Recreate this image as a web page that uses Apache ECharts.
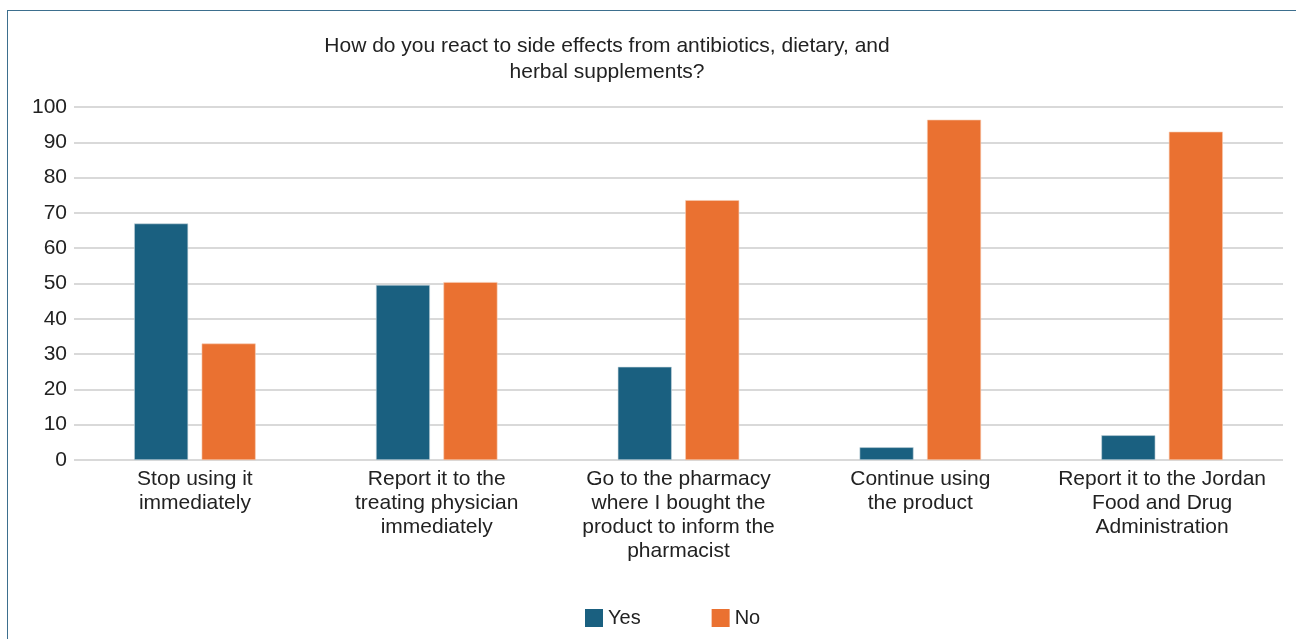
<!DOCTYPE html>
<html>
<head>
<meta charset="utf-8">
<script src="https://cdn.jsdelivr.net/npm/echarts@6/dist/echarts.min.js"></script>
<style>
html,body{margin:0;padding:0;background:#fff;}
#frame{position:absolute;left:7px;top:10px;width:1300px;height:640px;border:1px solid #3d6f8e;box-sizing:border-box;}
#chart{position:absolute;left:0;top:0;width:1296px;height:639px;}
</style>
</head>
<body>
<div id="frame"></div>
<div id="chart"></div>
<script>
const titleText = "How do you react to side effects from antibiotics, dietary, and\nherbal supplements?";
const categories = [
  "Stop using it\nimmediately",
  "Report it to the\ntreating physician\nimmediately",
  "Go to the pharmacy\nwhere I bought the\nproduct to inform the\npharmacist",
  "Continue using\nthe product",
  "Report it to the Jordan\nFood and Drug\nAdministration"
];
const seriesNames = ["Yes", "No"];
const yesValues = [67, 49.6, 26.4, 3.6, 7];
const noValues = [33, 50.4, 73.6, 96.4, 93];

const chart = echarts.init(document.getElementById('chart'), null, {renderer: 'canvas'});
const font = "'Liberation Sans', Arial, sans-serif";
chart.setOption({
  backgroundColor: 'transparent',
  animation: false,
  textStyle: {fontFamily: font},
  title: {
    text: titleText,
    left: 607,
    top: 33,
    textAlign: 'center',
    padding: 0,
    textStyle: {fontFamily: font, fontSize: 21, fontWeight: 'normal', color: '#222', lineHeight: 26}
  },
  legend: {
    data: seriesNames,
    left: 585,
    top: 608,
    padding: 0,
    itemWidth: 18,
    itemHeight: 18,
    itemGap: 71,
    icon: 'rect',
    itemStyle: {borderWidth: 0},
    textStyle: {fontFamily: font, fontSize: 20, color: '#222'}
  },
  grid: {left: 74, right: 13, top: 107, bottom: 179, containLabel: false},
  xAxis: {
    type: 'category',
    data: categories,
    axisLine: {show: false},
    axisTick: {show: false},
    axisLabel: {interval: 0, fontFamily: font, fontSize: 21, color: '#222', lineHeight: 24, margin: 7}
  },
  yAxis: {
    type: 'value',
    min: 0,
    max: 100,
    interval: 10,
    axisLine: {show: false},
    axisTick: {show: false},
    splitLine: {lineStyle: {color: '#d9d9d9', width: 2}},
    axisLabel: {fontFamily: font, fontSize: 21, color: '#222', margin: 7}
  },
  series: [
    {
      name: seriesNames[0], type: 'bar', data: yesValues,
      barWidth: 54, barGap: '25%',
      itemStyle: {color: '#1a6080', borderColor: '#c9d6de', borderWidth: 0.6}
    },
    {
      name: seriesNames[1], type: 'bar', data: noValues,
      barWidth: 54, barGap: '25%',
      itemStyle: {color: '#ea7131', borderColor: '#f7cdb4', borderWidth: 0.6}
    }
  ]
});
</script>
</body>
</html>
